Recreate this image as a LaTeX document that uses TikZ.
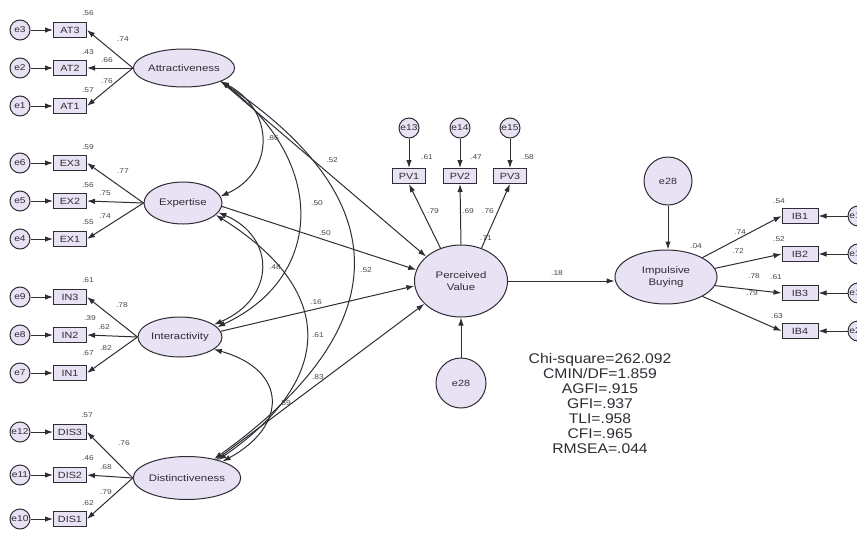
\documentclass[tikz,border=0pt]{standalone}
\usepackage{fontspec}
\setmainfont{Liberation Sans}
\usetikzlibrary{shapes.geometric,arrows.meta}
\definecolor{lav}{RGB}{233,225,244}
\definecolor{ink}{RGB}{45,45,52}
\definecolor{numgray}{RGB}{70,70,76}
% slightly widened lettering
\newcommand\sx[1]{\scalebox{1.2}[1]{#1}}

\begin{document}
\begin{tikzpicture}[x=1pt,y=-1pt,
  every node/.style={text=ink},
  factor/.style={ellipse, draw=ink, line width=1pt, fill=lav, inner sep=0pt,
                 font=\fontsize{9.5}{11}\selectfont, align=center},
  ind/.style={rectangle, draw=ink, line width=1pt, fill=lav, minimum width=33pt,
              minimum height=15pt, inner sep=0pt, font=\fontsize{9}{10}\selectfont},
  err/.style={circle, draw=ink, line width=1pt, fill=lav, minimum size=20pt,
              inner sep=0pt, font=\fontsize{8.5}{9}\selectfont},
  lnk/.style={draw=ink, line width=1pt, -{Latex[length=8pt,width=5.5pt]}},
  cov/.style={draw=ink, line width=1pt, {Latex[length=8pt,width=5.5pt]}-{Latex[length=8pt,width=5.5pt]}},
  est/.style={font=\fontsize{7}{8}\selectfont, inner sep=0pt, text=numgray},
]
\useasboundingbox (0,0) rectangle (857,533);
\clip (0,0) rectangle (857,533);

% ---------- exogenous factors ----------
\node[factor, minimum width=88pt, minimum height=38pt] (att) at (184,68) {\sx{Attractiveness}};
\node[factor, minimum width=78pt, minimum height=42pt] (exp) at (183,203) {\sx{Expertise}};
\node[factor, minimum width=84pt, minimum height=40pt] (int) at (180,337) {\sx{Interactivity}};
\node[factor, minimum width=95pt, minimum height=43pt] (dis) at (187,478) {\sx{Distinctiveness}};

% ---------- indicators and their errors ----------
\foreach \nm/\lab/\er/\yy in {at3/AT3/e3/30, at2/AT2/e2/68, at1/AT1/e1/106,
                              ex3/EX3/e6/163, ex2/EX2/e5/201, ex1/EX1/e4/239,
                              in3/IN3/e9/297, in2/IN2/e8/335, in1/IN1/e7/373,
                              ds3/DIS3/e12/432, ds2/DIS2/e11/475, ds1/DIS1/e10/519} {
  \node[ind] (\nm) at (70,\yy) {\sx{\lab}};
  \node[err] (\er) at (20,\yy) {\sx{\er}};
  \draw[lnk] (\er) -- (\nm);
}

\foreach \f/\a/\b/\c in {att/at3/at2/at1, exp/ex3/ex2/ex1, int/in3/in2/in1, dis/ds3/ds2/ds1} {
  \draw[lnk] (\f.west) -- (\a.east);
  \draw[lnk] (\f.west) -- (\b.east);
  \draw[lnk] (\f.west) -- (\c.east);
}

% ---------- perceived value ----------
\node[factor, minimum width=93pt, minimum height=72pt] (pv) at (461,281) {\sx{Perceived}\\[1pt]\sx{Value}};
\node[ind] (pv1) at (409,176) {\sx{PV1}};
\node[ind] (pv2) at (460,176) {\sx{PV2}};
\node[ind] (pv3) at (510,176) {\sx{PV3}};
\node[err] (e13) at (409,128) {\sx{e13}};
\node[err] (e14) at (460,128) {\sx{e14}};
\node[err] (e15) at (510,128) {\sx{e15}};
\draw[lnk] (e13) -- (pv1);
\draw[lnk] (e14) -- (pv2);
\draw[lnk] (e15) -- (pv3);
\draw[lnk] (pv.122) -- (pv1.south);
\draw[lnk] (pv.north) -- (pv2.south);
\draw[lnk] (pv.58) -- (pv3.south);
\node[err, minimum size=50pt, font=\fontsize{9}{10}\selectfont] (e28b) at (461,383) {\sx{e28}};
\draw[lnk] (e28b) -- (pv.south);

% ---------- impulsive buying ----------
\node[factor, minimum width=102pt, minimum height=54pt] (ib) at (666,277) {\sx{Impulsive}\\[1pt]\sx{Buying}};
\node[err, minimum size=48pt, font=\fontsize{9}{10}\selectfont] (e28t) at (668,181) {\sx{e28}};
\draw[lnk] (e28t.south) -- (e28t.south |- ib.north);
\draw[lnk] (pv.east) -- (pv.east -| ib.west);

\foreach \nm/\lab/\er/\yy/\ang in {ib1/IB1/e17/216/28, ib2/IB2/e18/254/10, ib3/IB3/e19/293/-10, ib4/IB4/e20/331/-28} {
  \node[ind, minimum width=36pt] (\nm) at (800,\yy) {\sx{\lab}};
  \node[err] (\er) at (858,\yy) {\sx{\er}};
  \draw[lnk] (\er) -- (\nm);
  \draw[lnk] (ib.\ang) -- (\nm.west);
}

% ---------- structural paths ----------
\draw[lnk] (att.-20) -- (pv.145);
\draw[lnk] (exp.-5) -- (pv.166);
\draw[lnk] (int.8) -- (pv.186);
\draw[lnk] (dis.32) -- (pv.212);

% ---------- covariances ----------
\draw[cov] (att.-20) .. controls (275,110) and (275,172) .. (exp.10);
\draw[cov] (att.-20) .. controls (326,160) and (326,277) .. (int.15);
\draw[cov] (att.-20) .. controls (398,200) and (398,327) .. (dis.35);
\draw[cov] (exp.-15) .. controls (276,237) and (276,298) .. (int.20);
\draw[cov] (exp.-20) .. controls (336,290) and (336,378) .. (dis.30);
\draw[cov] (int.-20) .. controls (288,370) and (288,426) .. (dis.25);

% ---------- estimates ----------
\foreach \xx/\yy/\v in {88/13/.56, 88/52/.43, 88/90/.57, 123/39/.74, 107/60/.66, 107/81/.76,
                        88/147/.59, 88/185/.56, 88/222/.55, 123/171/.77, 105/193/.75, 105/216/.74,
                        88/280/.61, 90/318/.39, 88/353/.67, 122/305/.78, 104/327/.62, 106/348/.82,
                        87/415/.57, 88/458/.46, 88/503/.62, 124/443/.76, 106/467/.68, 106/492/.79,
                        273/138/.86, 317/203/.50, 332/160/.52, 325/233/.50, 366/270/.52,
                        275/267/.48, 316/302/.16, 318/335/.61, 318/377/.83, 285/403/.59,
                        427/157/.61, 476/157/.47, 528/157/.58, 433/211/.79, 468/211/.69, 488/211/.76,
                        486/238/.71, 557/273/.18,
                        696/246/.04, 740/232/.74, 738/251/.72, 754/276/.78, 752/293/.79,
                        779/201/.54, 779/239/.52, 776/277/.61, 777/316/.63} {
  \node[est] at (\xx,\yy) {\sx{\v}};
}

% ---------- fit indices ----------
\node[align=center, font=\fontsize{14}{15}\selectfont, inner sep=0pt] (fit) at (600,403)
  {\scalebox{1.12}[1]{Chi-square=262.092}\\\scalebox{1.12}[1]{CMIN/DF=1.859}\\
   \scalebox{1.12}[1]{AGFI=.915}\\\scalebox{1.12}[1]{GFI=.937}\\\scalebox{1.12}[1]{TLI=.958}\\
   \scalebox{1.12}[1]{CFI=.965}\\\scalebox{1.12}[1]{RMSEA=.044}};
\end{tikzpicture}
\end{document}
